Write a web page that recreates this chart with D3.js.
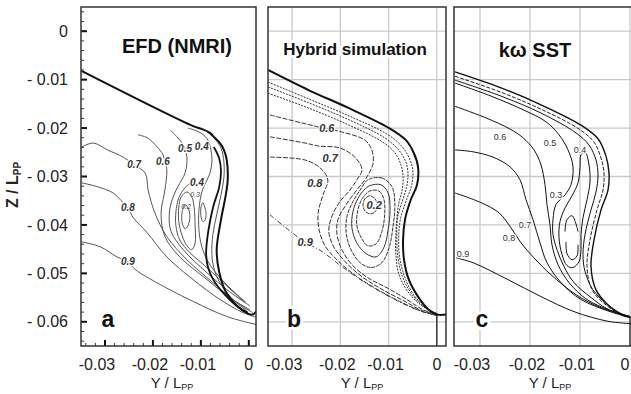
<!doctype html>
<html lang="en">
<head>
<meta charset="UTF-8" />
<title>Wake contours: EFD, hybrid, kω SST</title>
<script src="https://d3js.org/d3.v7.min.js"></script>
<style>
  body { margin: 0; background: #fff; }
  svg { display: block; font-family: 'Liberation Sans', Arial, sans-serif; }
  .lbl { paint-order: stroke; stroke: #fff; stroke-width: 3px; stroke-linejoin: round; }
</style>
</head>
<body>
<script>
// axis ticks
const xTicks = [-0.03, -0.02, -0.01, 0]
const yTicks = [0, -0.01, -0.02, -0.03, -0.04, -0.05, -0.06]

// ---- panel a : EFD (NMRI) ----  [Y/Lpp, Z/Lpp]
const hullA = [[-0.0349,-0.0082],[-0.0116,-0.0196],[-0.0098,-0.0202],[-0.0081,-0.0210],[-0.0071,-0.0220],[-0.0060,-0.0231],[-0.0052,-0.0245],[-0.0046,-0.0266],[-0.0044,-0.0307],[-0.0048,-0.0338],[-0.0058,-0.0389],[-0.0067,-0.0451],[-0.0062,-0.0496],[-0.0048,-0.0538],[-0.0025,-0.0567],[-0.0002,-0.0583],[0.0008,-0.0585],[0.0017,-0.0577]]
const a09 = [[-0.0349,-0.0435],[-0.0310,-0.0445],[-0.0275,-0.0466],[-0.0252,-0.0476],[-0.0237,-0.0492],[-0.0185,-0.0523],[-0.0116,-0.0558],[-0.0046,-0.0589],[0.0017,-0.0606]]
const a08 = [[-0.0349,-0.0313],[-0.0316,-0.0321],[-0.0283,-0.0334],[-0.0268,-0.0348],[-0.0252,-0.0365],[-0.0241,-0.0385],[-0.0212,-0.0416],[-0.0171,-0.0466],[-0.0116,-0.0513],[-0.0060,-0.0554],[-0.0012,-0.0581],[0.0017,-0.0591]]
const a07 = [[-0.0349,-0.0239],[-0.0324,-0.0231],[-0.0295,-0.0245],[-0.0262,-0.0260],[-0.0239,-0.0276],[-0.0216,-0.0293],[-0.0210,-0.0328],[-0.0196,-0.0375],[-0.0171,-0.0424],[-0.0129,-0.0472],[-0.0075,-0.0519],[-0.0025,-0.0560],[0.0008,-0.0581]]
const a06 = [[-0.0231,-0.0214],[-0.0212,-0.0220],[-0.0191,-0.0239],[-0.0179,-0.0255],[-0.0175,-0.0270],[-0.0171,-0.0286],[-0.0175,-0.0328],[-0.0183,-0.0375],[-0.0175,-0.0424],[-0.0144,-0.0466],[-0.0087,-0.0513],[-0.0040,-0.0550],[0.0002,-0.0575]]
const a05 = [[-0.0164,-0.0204],[-0.0150,-0.0218],[-0.0139,-0.0231],[-0.0133,-0.0243],[-0.0129,-0.0260],[-0.0133,-0.0293],[-0.0148,-0.0321],[-0.0160,-0.0348],[-0.0166,-0.0379],[-0.0162,-0.0414],[-0.0137,-0.0451],[-0.0087,-0.0499],[-0.0040,-0.0538],[0.0002,-0.0567]]
const a04L = [[-0.0008,-0.0560],[-0.0033,-0.0538],[-0.0060,-0.0513],[-0.0092,-0.0484],[-0.0123,-0.0457],[-0.0144,-0.0431],[-0.0152,-0.0402],[-0.0152,-0.0373],[-0.0146,-0.0344],[-0.0133,-0.0323],[-0.0121,-0.0313]]
const a04R = [[-0.0127,-0.0200],[-0.0104,-0.0208],[-0.0087,-0.0222],[-0.0079,-0.0245],[-0.0077,-0.0270],[-0.0081,-0.0293],[-0.0089,-0.0311],[-0.0098,-0.0332],[-0.0104,-0.0369],[-0.0104,-0.0410],[-0.0098,-0.0445],[-0.0085,-0.0476],[-0.0060,-0.0509],[-0.0031,-0.0538],[-0.0006,-0.0560]]
const a03 = [[-0.0129,-0.0332],[-0.0141,-0.0342],[-0.0146,-0.0363],[-0.0146,-0.0393],[-0.0139,-0.0422],[-0.0129,-0.0443],[-0.0119,-0.0451],[-0.0112,-0.0437],[-0.0112,-0.0402],[-0.0114,-0.0365],[-0.0119,-0.0342]]
const a02 = [[-0.0133,-0.0358],[-0.0125,-0.0369],[-0.0123,-0.0385],[-0.0127,-0.0402],[-0.0133,-0.0408],[-0.0139,-0.0396],[-0.0139,-0.0373]]
const aLoop = [[-0.0096,-0.0354],[-0.0092,-0.0363],[-0.0089,-0.0377],[-0.0092,-0.0391],[-0.0096,-0.0393],[-0.0100,-0.0381],[-0.0100,-0.0365]]
const aN1 = [[-0.0073,-0.0239],[-0.0062,-0.0262],[-0.0058,-0.0290],[-0.0062,-0.0323],[-0.0073,-0.0358],[-0.0081,-0.0393],[-0.0087,-0.0431],[-0.0089,-0.0461],[-0.0085,-0.0488],[-0.0073,-0.0515],[-0.0050,-0.0544],[-0.0023,-0.0569],[-0.0002,-0.0581]]
const aN2 = [[-0.0092,-0.0204],[-0.0073,-0.0220],[-0.0058,-0.0241],[-0.0052,-0.0270],[-0.0052,-0.0303],[-0.0058,-0.0338],[-0.0067,-0.0379],[-0.0075,-0.0420],[-0.0077,-0.0461],[-0.0071,-0.0496],[-0.0054,-0.0529],[-0.0029,-0.0558],[-0.0004,-0.0577]]
const labelsA = [['0.9',-0.0252,-0.0476],['0.8',-0.0252,-0.0365],['0.7',-0.0239,-0.0276],['0.6',-0.0179,-0.0268],['0.5',-0.0133,-0.0243],['0.4',-0.0108,-0.0313],['0.4',-0.0098,-0.0239]]
const smallLabelsA = [['0.3',-0.0112,-0.0338],['0.2',-0.0131,-0.0362]]

// ---- panel b : hybrid simulation ----
const hullB = [[-0.0350,-0.0080],[-0.0265,-0.0122],[-0.0182,-0.0159],[-0.0099,-0.0200],[-0.0064,-0.0225],[-0.0048,-0.0251],[-0.0039,-0.0280],[-0.0041,-0.0317],[-0.0054,-0.0348],[-0.0066,-0.0389],[-0.0070,-0.0431],[-0.0068,-0.0472],[-0.0058,-0.0513],[-0.0039,-0.0548],[-0.0017,-0.0575],[0,-0.0585],[0.0019,-0.0585]]
const sternB = [[0,-0.0585],[0,-0.065]]
const b09 = [[-0.0346,-0.0379],[-0.0300,-0.0416],[-0.0273,-0.0435],[-0.0238,-0.0455],[-0.0197,-0.0486],[-0.0149,-0.0519],[-0.0087,-0.0554],[-0.0031,-0.0579],[0,-0.0587]]
const b08 = [[-0.0346,-0.0260],[-0.0273,-0.0266],[-0.0242,-0.0282],[-0.0226,-0.0307],[-0.0236,-0.0338],[-0.0246,-0.0375],[-0.0244,-0.0410],[-0.0232,-0.0443],[-0.0205,-0.0474],[-0.0168,-0.0505],[-0.0122,-0.0534],[-0.0077,-0.0558],[-0.0035,-0.0577],[0,-0.0587]]
const b07 = [[-0.0346,-0.0218],[-0.0273,-0.0231],[-0.0246,-0.0237],[-0.0201,-0.0241],[-0.0170,-0.0260],[-0.0155,-0.0286],[-0.0166,-0.0307],[-0.0180,-0.0328],[-0.0201,-0.0352],[-0.0217,-0.0381],[-0.0224,-0.0412],[-0.0215,-0.0443],[-0.0190,-0.0476],[-0.0155,-0.0507],[-0.0112,-0.0534],[-0.0066,-0.0558],[-0.0031,-0.0577],[0,-0.0585]]
const b06 = [[-0.0346,-0.0173],[-0.0244,-0.0198],[-0.0197,-0.0208],[-0.0149,-0.0225],[-0.0135,-0.0245],[-0.0132,-0.0272],[-0.0145,-0.0301],[-0.0166,-0.0328],[-0.0188,-0.0358],[-0.0205,-0.0389],[-0.0207,-0.0420],[-0.0197,-0.0451],[-0.0176,-0.0482],[-0.0143,-0.0509],[-0.0101,-0.0531],[-0.0062,-0.0554],[-0.0029,-0.0575],[0,-0.0585]]
const b05 = [[-0.0143,-0.0307],[-0.0114,-0.0303],[-0.0093,-0.0321],[-0.0087,-0.0358],[-0.0091,-0.0404],[-0.0099,-0.0447],[-0.0114,-0.0478],[-0.0137,-0.0488],[-0.0159,-0.0478],[-0.0178,-0.0451],[-0.0188,-0.0416],[-0.0186,-0.0381],[-0.0174,-0.0352],[-0.0159,-0.0328]]
const b04 = [[-0.0139,-0.0319],[-0.0116,-0.0317],[-0.0101,-0.0334],[-0.0097,-0.0369],[-0.0101,-0.0410],[-0.0110,-0.0447],[-0.0126,-0.0466],[-0.0147,-0.0459],[-0.0166,-0.0437],[-0.0176,-0.0406],[-0.0174,-0.0373],[-0.0164,-0.0346],[-0.0151,-0.0328]]
const b03 = [[-0.0139,-0.0330],[-0.0120,-0.0330],[-0.0110,-0.0346],[-0.0108,-0.0377],[-0.0114,-0.0414],[-0.0126,-0.0439],[-0.0143,-0.0443],[-0.0157,-0.0426],[-0.0166,-0.0400],[-0.0164,-0.0371],[-0.0155,-0.0346]]
const b02 = [[-0.0139,-0.0340],[-0.0128,-0.0346],[-0.0124,-0.0358],[-0.0128,-0.0373],[-0.0139,-0.0377],[-0.0149,-0.0371],[-0.0153,-0.0358],[-0.0149,-0.0346]]
const bN1 = [[-0.0350,-0.0105],[-0.0265,-0.0140],[-0.0182,-0.0175],[-0.0104,-0.0212],[-0.0075,-0.0235],[-0.0058,-0.0260],[-0.0050,-0.0286],[-0.0052,-0.0317],[-0.0062,-0.0346],[-0.0075,-0.0385],[-0.0079,-0.0426],[-0.0077,-0.0468],[-0.0066,-0.0509],[-0.0048,-0.0544],[-0.0023,-0.0571],[0,-0.0583]]
const bN2 = [[-0.0350,-0.0115],[-0.0265,-0.0148],[-0.0182,-0.0183],[-0.0108,-0.0220],[-0.0081,-0.0243],[-0.0066,-0.0266],[-0.0060,-0.0290],[-0.0062,-0.0319],[-0.0070,-0.0346],[-0.0081,-0.0383],[-0.0083,-0.0422],[-0.0081,-0.0464],[-0.0072,-0.0505],[-0.0054,-0.0540],[-0.0027,-0.0569],[0,-0.0583]]
const bN3 = [[-0.0350,-0.0128],[-0.0265,-0.0159],[-0.0182,-0.0194],[-0.0112,-0.0229],[-0.0087,-0.0251],[-0.0075,-0.0274],[-0.0070,-0.0299],[-0.0072,-0.0328],[-0.0079,-0.0356],[-0.0083,-0.0389],[-0.0085,-0.0422],[-0.0085,-0.0459],[-0.0079,-0.0501],[-0.0060,-0.0538],[-0.0031,-0.0567],[0,-0.0583]]
const labelsB = [['0.6',-0.0228,-0.0200],['0.7',-0.0221,-0.0262],['0.8',-0.0253,-0.0313],['0.9',-0.0273,-0.0435],['0.2',-0.0130,-0.0360]]

// ---- panel c : k-omega SST ----
const hullC = [[-0.0350,-0.0084],[-0.0258,-0.0117],[-0.0178,-0.0152],[-0.0098,-0.0194],[-0.0064,-0.0222],[-0.0048,-0.0258],[-0.0042,-0.0293],[-0.0044,-0.0328],[-0.0058,-0.0369],[-0.0072,-0.0431],[-0.0078,-0.0486],[-0.0068,-0.0534],[-0.0040,-0.0569],[-0.0014,-0.0587],[0.0004,-0.0591]]
const sternC = [[0,-0.0591],[0,-0.065]]
const c09 = [[-0.0348,-0.0468],[-0.0314,-0.0478],[-0.0244,-0.0513],[-0.0178,-0.0548],[-0.0112,-0.0579],[-0.0044,-0.0599],[0.0004,-0.0604]]
const c08 = [[-0.0350,-0.0334],[-0.0298,-0.0354],[-0.0262,-0.0375],[-0.0238,-0.0406],[-0.0218,-0.0437],[-0.0192,-0.0468],[-0.0158,-0.0503],[-0.0108,-0.0544],[-0.0058,-0.0571],[0,-0.0589]]
const c07 = [[-0.0350,-0.0245],[-0.0314,-0.0249],[-0.0274,-0.0260],[-0.0240,-0.0280],[-0.0220,-0.0307],[-0.0208,-0.0348],[-0.0194,-0.0389],[-0.0180,-0.0437],[-0.0166,-0.0478],[-0.0138,-0.0519],[-0.0098,-0.0554],[-0.0040,-0.0579],[0,-0.0591]]
const c06 = [[-0.0350,-0.0155],[-0.0288,-0.0179],[-0.0240,-0.0202],[-0.0214,-0.0220],[-0.0192,-0.0245],[-0.0178,-0.0276],[-0.0170,-0.0317],[-0.0166,-0.0358],[-0.0160,-0.0400],[-0.0156,-0.0441],[-0.0144,-0.0482],[-0.0122,-0.0519],[-0.0086,-0.0554],[-0.0038,-0.0577],[0,-0.0589]]
const c05 = [[-0.0350,-0.0107],[-0.0278,-0.0134],[-0.0212,-0.0163],[-0.0168,-0.0187],[-0.0142,-0.0214],[-0.0124,-0.0245],[-0.0114,-0.0280],[-0.0118,-0.0317],[-0.0130,-0.0338],[-0.0148,-0.0358],[-0.0154,-0.0389],[-0.0154,-0.0420],[-0.0146,-0.0451],[-0.0132,-0.0486],[-0.0112,-0.0519],[-0.0078,-0.0550],[-0.0046,-0.0573],[0,-0.0591]]
const cN1 = [[-0.0350,-0.0093],[-0.0258,-0.0126],[-0.0178,-0.0161],[-0.0102,-0.0202],[-0.0072,-0.0229],[-0.0058,-0.0262],[-0.0052,-0.0293],[-0.0054,-0.0328],[-0.0066,-0.0369],[-0.0080,-0.0431],[-0.0086,-0.0486],[-0.0076,-0.0534],[-0.0046,-0.0567],[-0.0018,-0.0585],[0,-0.0591]]
const cN2 = [[-0.0350,-0.0101],[-0.0258,-0.0134],[-0.0178,-0.0169],[-0.0108,-0.0210],[-0.0082,-0.0235],[-0.0068,-0.0266],[-0.0064,-0.0297],[-0.0068,-0.0332],[-0.0078,-0.0369],[-0.0090,-0.0420],[-0.0094,-0.0461],[-0.0090,-0.0496],[-0.0074,-0.0534],[-0.0048,-0.0562],[-0.0018,-0.0583],[0,-0.0591]]
const c03 = [[-0.0090,-0.0249],[-0.0082,-0.0276],[-0.0080,-0.0311],[-0.0086,-0.0348],[-0.0094,-0.0385],[-0.0098,-0.0420],[-0.0098,-0.0451],[-0.0102,-0.0476],[-0.0114,-0.0488],[-0.0126,-0.0484],[-0.0136,-0.0461],[-0.0142,-0.0426],[-0.0140,-0.0393],[-0.0130,-0.0365],[-0.0116,-0.0340],[-0.0104,-0.0313],[-0.0100,-0.0282],[-0.0098,-0.0255]]
const c02a = [[-0.0130,-0.0414],[-0.0126,-0.0389],[-0.0116,-0.0381],[-0.0108,-0.0398],[-0.0104,-0.0414]]
const c02b = [[-0.0128,-0.0435],[-0.0126,-0.0459],[-0.0116,-0.0472],[-0.0106,-0.0464],[-0.0104,-0.0441]]
const labelsC = [['0.6',-0.0260,-0.0218],['0.5',-0.0160,-0.0231],['0.4',-0.0100,-0.0245],['0.3',-0.0148,-0.0338],['0.7',-0.0210,-0.0400],['0.8',-0.0242,-0.0426],['0.9',-0.0334,-0.0459]]

const W = 631, H = 394
const svg = d3.select('body').append('svg').attr('width', W).attr('height', H)

const y = d3.scaleLinear().domain([0.005, -0.065]).range([7, 346])

const panels = [
  { key: 'a', range: [81, 256], dom: [-0.035, 0.0015], grid: false, title: 'EFD (NMRI)', titleSize: 20, titleX: 177, titleY: 53, letterX: 108, axisX: 172 },
  { key: 'b', range: [268, 446], dom: [-0.035, 0.0019], grid: true, title: 'Hybrid simulation', titleSize: 17, titleX: 355, titleY: 55, letterX: 294, axisX: 362 },
  { key: 'c', range: [454, 637.5], dom: [-0.0352, 0.0015], grid: true, title: 'kω SST', titleSize: 20, titleX: 535, titleY: 57, letterX: 482, axisX: 550 },
]

// line sets per panel: [points, style, closed]
const lineSets = {
  a: [
    [a09, 'ga'], [a08, 'ga'], [a07, 'ga'], [a06, 'ga'], [a05, 'ga'],
    [a04L, 'ga'], [a04R, 'ga'], [a03, 'ga', true], [a02, 'ga', true], [aLoop, 'ga', true],
    [aN2, 'ga'], [aN1, 'thick'], [hullA, 'hull'],
  ],
  b: [
    [b09, 'dashdot'], [b08, 'dash'], [b07, 'dash'], [b06, 'dash'],
    [b05, 'dashS', true], [b04, 'solidB', true], [b03, 'dashS', true], [b02, 'dashS', true],
    [bN3, 'dot'], [bN2, 'dot'], [bN1, 'dot'], [hullB, 'hull'], [sternB, 'hullThin'],
  ],
  c: [
    [c09, 'solidC'], [c08, 'solidC'], [c07, 'solidC'], [c06, 'solidC'], [c05, 'solidC'],
    [c03, 'solidC', true], [c02a, 'solidC'], [c02b, 'solidC'],
    [cN2, 'solidC'], [cN1, 'dashC'], [hullC, 'hullC'], [sternC, 'hullThin'],
  ],
}

const styles = {
  ga: { stroke: '#555', width: 1 },
  thick: { stroke: '#111', width: 1.8 },
  hull: { stroke: '#111', width: 2 },
  hullC: { stroke: '#111', width: 1.4 },
  hullThin: { stroke: '#111', width: 1.2 },
  dashdot: { stroke: '#444', width: 1, dash: '5,2,1,2' },
  dash: { stroke: '#333', width: 1, dash: '5,1.5' },
  dashS: { stroke: '#333', width: 1, dash: '4,1' },
  solidB: { stroke: '#333', width: 1 },
  dot: { stroke: '#333', width: 1, dash: '2,1.2' },
  solidC: { stroke: '#111', width: 1 },
  dashC: { stroke: '#222', width: 1, dash: '4,1.5' },
}

const labelSets = { a: labelsA, b: labelsB, c: labelsC }

panels.forEach((p) => {
  const x = d3.scaleLinear().domain(p.dom).range(p.range)
  const x0 = p.range[0]

  svg.append('clipPath').attr('id', 'clip-' + p.key)
    .append('rect').attr('x', x0).attr('y', 7).attr('width', p.range[1] - x0).attr('height', 339)

  const g = svg.append('g').attr('clip-path', `url(#clip-${p.key})`)

  g.append('rect').attr('x', x0).attr('y', 7).attr('width', p.range[1] - x0).attr('height', 339).attr('fill', '#fff')

  if (p.grid) {
    g.selectAll('.vg').data(xTicks).enter().append('line')
      .attr('x1', (d) => x(d)).attr('x2', (d) => x(d)).attr('y1', 7).attr('y2', 346)
      .attr('stroke', '#c9c9c9').attr('stroke-width', 1.3)
    g.selectAll('.hg').data(yTicks).enter().append('line')
      .attr('x1', x0).attr('x2', p.range[1]).attr('y1', (d) => y(d)).attr('y2', (d) => y(d))
      .attr('stroke', '#c9c9c9').attr('stroke-width', 1.3)
  }

  // title and panel letter (white halo breaks the grid)
  g.append('text').attr('class', 'lbl').attr('x', p.titleX).attr('y', p.titleY)
    .attr('text-anchor', 'middle').attr('font-weight', 'bold').attr('font-size', p.titleSize + 'px')
    .attr('fill', '#111').style('stroke-width', '6px').text(p.title)
  g.append('text').attr('class', 'lbl').attr('x', p.letterX).attr('y', 327)
    .attr('text-anchor', 'middle').attr('font-weight', 'bold').attr('font-size', '23px')
    .attr('fill', '#111').style('stroke-width', '6px').text(p.key)

  const line = d3.line().x((d) => x(d[0])).y((d) => y(d[1])).curve(d3.curveCatmullRom.alpha(0.5))
  const loop = d3.line().x((d) => x(d[0])).y((d) => y(d[1])).curve(d3.curveCatmullRomClosed.alpha(0.5))

  lineSets[p.key].forEach(([pts, st, closed]) => {
    const s = styles[st]
    g.append('path').datum(pts)
      .attr('d', closed ? loop : line)
      .attr('fill', 'none')
      .attr('stroke', s.stroke)
      .attr('stroke-width', s.width)
      .attr('stroke-dasharray', s.dash || null)
      .attr('stroke-linejoin', 'round')
  })

  // contour labels
  const isC = p.key === 'c'
  g.selectAll('.cl').data(labelSets[p.key]).enter().append('text')
    .attr('class', 'lbl')
    .attr('x', (d) => x(d[1])).attr('y', (d) => y(d[2]))
    .attr('dy', '0.35em').attr('text-anchor', 'middle')
    .attr('font-size', isC ? '9px' : p.key === 'b' ? '11px' : '10px')
    .attr('font-weight', isC ? 'normal' : 'bold')
    .attr('font-style', isC ? 'normal' : 'italic')
    .attr('fill', '#333')
    .style('stroke-width', '2.5px')
    .text((d) => d[0])

  if (p.key === 'a') {
    g.selectAll('.sl').data(smallLabelsA).enter().append('text')
      .attr('x', (d) => x(d[1])).attr('y', (d) => y(d[2]))
      .attr('dy', '0.35em').attr('text-anchor', 'middle')
      .attr('font-size', '7px').attr('font-style', 'italic').attr('fill', '#444')
      .text((d) => d[0])

    // axis ticks inside the frame
    const minorY = d3.range(0, 36).map((i) => 0.004 - i * 0.002)
    const minorX = d3.range(0, 19).map((i) => -0.034 + i * 0.002)
    g.selectAll('.my').data(minorY).enter().append('line')
      .attr('x1', x0).attr('x2', x0 + 3).attr('y1', (d) => y(d)).attr('y2', (d) => y(d))
      .attr('stroke', '#333').attr('stroke-width', 1)
    g.selectAll('.My').data(yTicks).enter().append('line')
      .attr('x1', x0).attr('x2', x0 + 6).attr('y1', (d) => y(d)).attr('y2', (d) => y(d))
      .attr('stroke', '#111').attr('stroke-width', 2)
    g.selectAll('.mx').data(minorX).enter().append('line')
      .attr('x1', (d) => x(d)).attr('x2', (d) => x(d)).attr('y1', 346).attr('y2', 343)
      .attr('stroke', '#333').attr('stroke-width', 1)
    g.selectAll('.Mx').data(xTicks).enter().append('line')
      .attr('x1', (d) => x(d)).attr('x2', (d) => x(d)).attr('y1', 346).attr('y2', 340)
      .attr('stroke', '#111').attr('stroke-width', 2)
  }

  // frame
  svg.append('rect').attr('x', x0).attr('y', 7).attr('width', p.range[1] - x0).attr('height', 339)
    .attr('fill', 'none').attr('stroke', '#333').attr('stroke-width', 1.5)

  // x tick labels
  svg.selectAll('.xt-' + p.key).data(xTicks).enter().append('text')
    .attr('x', (d) => Math.min(W - 6, x(d) + (d === -0.03 ? -8 : d === 0 ? 0 : -3)))
    .attr('y', 370).attr('text-anchor', 'middle').attr('font-size', '16px').attr('fill', '#222')
    .text((d) => (d === 0 ? '0' : d.toFixed(2)))

  // x axis title
  const t = svg.append('text').attr('x', p.axisX).attr('y', 388).attr('text-anchor', 'middle')
    .attr('font-size', '15px').attr('fill', '#222')
  t.append('tspan').text('Y / L')
  t.append('tspan').attr('font-size', '9px').attr('dy', 2).text('PP')
})

// y tick labels (left of panel a)
svg.selectAll('.yt').data(yTicks).enter().append('text')
  .attr('x', 68).attr('y', (d) => y(d)).attr('dy', '0.35em').attr('text-anchor', 'end')
  .attr('font-size', '16px').attr('fill', '#222')
  .text((d) => (d === 0 ? '0' : '- ' + Math.abs(d).toFixed(2)))

// y axis title
const yt = svg.append('text').attr('transform', 'translate(18,185) rotate(-90)')
  .attr('text-anchor', 'middle').attr('font-size', '16px').attr('font-weight', 'bold').attr('fill', '#222')
yt.append('tspan').text('Z / L')
yt.append('tspan').attr('font-size', '10px').attr('dy', 3).text('PP')
</script>
</body>
</html>
